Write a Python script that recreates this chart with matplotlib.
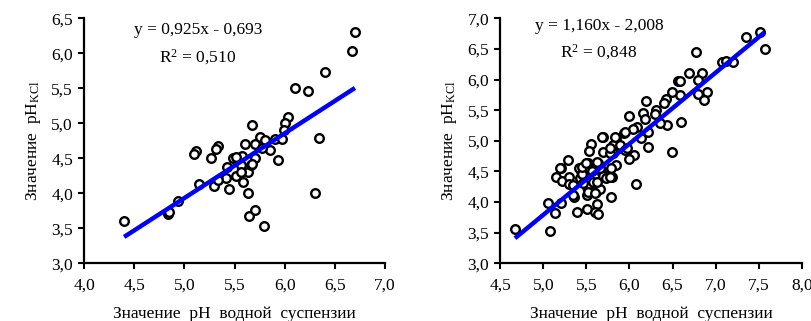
import matplotlib
matplotlib.use("Agg")
import matplotlib.pyplot as plt
import numpy as np

plt.rcParams['font.family'] = ['Liberation Serif', 'DejaVu Serif']
plt.rcParams['mathtext.fontset'] = 'custom'
plt.rcParams['mathtext.rm'] = 'Liberation Serif'
plt.rcParams['mathtext.it'] = 'Liberation Serif:italic'

# ---- Left panel data ----
left_x = [6.70, 6.67, 6.40, 6.10, 6.23, 6.34, 6.03, 6.00, 5.99, 5.67, 5.75, 5.80, 5.90, 5.97,
          5.60, 5.70, 5.85, 5.77, 5.12, 5.10, 5.34, 5.32, 5.27, 4.40, 4.84, 4.85, 4.94, 5.15,
          5.30, 5.45, 5.42, 5.51, 5.58, 5.63, 5.64, 5.70, 5.79, 6.30, 5.93, 5.63, 5.66, 5.56,
          5.56, 5.43, 5.70, 5.49, 5.53, 5.57, 5.34, 5.67, 5.51]
left_y = [6.30, 6.04, 5.73, 5.50, 5.46, 4.79, 5.09, 5.00, 4.90, 4.97, 4.80, 4.76, 4.77, 4.78,
          4.71, 4.71, 4.62, 4.65, 4.61, 4.56, 4.67, 4.64, 4.51, 3.60, 3.71, 3.73, 3.89, 4.14,
          4.10, 4.06, 4.22, 4.25, 4.16, 4.00, 3.68, 3.76, 3.54, 4.00, 4.47, 4.30, 4.40, 4.40,
          4.31, 4.37, 4.50, 4.51, 4.51, 4.53, 4.19, 4.42, 4.52]
left_slope, left_intercept = 0.925, -0.693
left_eq = "y = 0,925x - 0,693"
left_r2 = "0,510"

# ---- Right panel data ----
right_x = [7.52, 7.57, 7.35, 7.08, 7.20, 7.12, 6.77, 6.69, 6.84, 6.56, 6.59, 6.80, 6.80, 6.90,
           6.87, 6.59, 6.49, 6.42, 6.40, 6.19, 6.60, 6.44, 6.36, 6.31, 6.30, 6.16, 6.18, 5.99,
           6.09, 6.04, 5.94, 6.13, 6.21, 6.21, 6.49, 5.69, 5.55, 5.53, 5.84, 5.84, 5.81, 6.05,
           5.69, 5.29, 4.67, 5.08, 5.05, 5.13, 5.20, 5.15, 5.21, 5.22, 5.30, 5.30, 5.36, 5.34,
           5.39, 5.44, 5.43, 5.51, 5.51, 5.51, 5.51, 5.58, 5.61, 5.63, 5.62, 5.60, 5.63, 5.66,
           5.68, 5.69, 5.73, 5.80, 5.78, 5.84, 5.99, 6.08, 5.81, 5.35, 5.41, 5.45, 5.46, 5.56,
           5.66, 5.77, 5.79, 5.77, 5.62, 5.52, 5.60, 5.95, 5.83, 5.68, 5.89, 5.95, 5.62, 5.45,
           5.52, 5.77, 5.97, 5.19, 5.50]
right_y = [6.77, 6.50, 6.70, 6.29, 6.29, 6.30, 6.45, 6.10, 6.10, 5.98, 5.98, 6.00, 5.76, 5.80,
           5.67, 5.74, 5.80, 5.68, 5.61, 5.65, 5.31, 5.26, 5.29, 5.50, 5.44, 5.45, 5.36, 5.40,
           5.23, 5.20, 5.13, 5.05, 5.14, 4.90, 4.81, 5.06, 4.94, 4.84, 5.04, 4.98, 4.93, 4.77,
           4.82, 4.68, 3.56, 3.52, 3.99, 3.82, 3.98, 4.41, 4.55, 4.34, 4.41, 4.29, 4.09, 4.12,
           3.83, 4.51, 4.39, 4.63, 4.12, 3.88, 4.25, 4.33, 4.17, 4.63, 3.97, 3.84, 3.80, 4.21,
           4.47, 4.43, 4.39, 4.41, 4.09, 4.60, 4.70, 4.29, 4.80, 4.28, 4.55, 4.46, 4.31, 4.50,
           4.55, 4.80, 4.55, 4.41, 4.33, 4.17, 4.14, 5.15, 5.07, 5.07, 4.93, 4.85, 4.66, 4.58,
           4.64, 4.88, 4.88, 4.56, 4.64]
right_slope, right_intercept = 1.160, -2.008
right_eq = "y = 1,160x - 2,008"
right_r2 = "0,848"

x_label = "Значение  pH  водной  суспензии"
y_label = "Значение  pH$_{\\mathrm{KCl}}$"

left_xticks = [4.0, 4.5, 5.0, 5.5, 6.0, 6.5, 7.0]
left_yticks = [3.0, 3.5, 4.0, 4.5, 5.0, 5.5, 6.0, 6.5]
right_xticks = [4.5, 5.0, 5.5, 6.0, 6.5, 7.0, 7.5, 8.0]
right_yticks = [3.0, 3.5, 4.0, 4.5, 5.0, 5.5, 6.0, 6.5, 7.0]


def fmt(v):
    return f"{v:.1f}".replace('.', ',')


fig = plt.figure(figsize=(8.12, 3.21), dpi=100)
ax1 = fig.add_axes([84 / 812, 1 - 263.3 / 321, 301 / 812, 245 / 321])
ax2 = fig.add_axes([500.3 / 812, 1 - 263.3 / 321, 301.4 / 812, 245 / 321])


def panel(ax, xs, ys, slope, intercept, eq, r2, xticks, yticks, eq_x, eq_y):
    ax.plot(xs, ys, linestyle='none', marker='o', ms=6.2, mfc='white', mec='black',
            mew=1.7, zorder=3)
    xl = np.array([min(xs), max(xs)])
    ax.plot(xl, slope * xl + intercept, color='#0000ff', lw=3.2, zorder=4,
            solid_capstyle='butt')
    ax.set_xlim(xticks[0], xticks[-1])
    ax.set_ylim(yticks[0], yticks[-1])
    ax.set_xticks(xticks)
    ax.set_yticks(yticks)
    ax.set_xticklabels([fmt(v) for v in xticks], fontsize=12.5)
    ax.set_yticklabels([fmt(v) for v in yticks], fontsize=12.5)
    for s in ['top', 'right']:
        ax.spines[s].set_visible(False)
    for s in ['left', 'bottom']:
        ax.spines[s].set_linewidth(1.6)
    ax.tick_params(direction='out', length=4, width=1.5)
    ax.tick_params(axis='x', pad=6)
    ax.tick_params(axis='y', pad=4)
    ax.set_xlabel(x_label, fontsize=12.5, labelpad=9)
    ax.set_ylabel(y_label, fontsize=12.5, labelpad=6)
    ax.text(eq_x, eq_y, eq, transform=ax.transAxes, ha='center', va='center',
            fontsize=12.5)
    ax.text(eq_x, eq_y - 0.11, "R$^{2}$ = " + r2, transform=ax.transAxes,
            ha='center', va='center', fontsize=12.5)


panel(ax1, left_x, left_y, left_slope, left_intercept, left_eq, left_r2,
      left_xticks, left_yticks, (198 - 84) / 301, (263.3 - 30) / 245)
panel(ax2, right_x, right_y, right_slope, right_intercept, right_eq, right_r2,
      right_xticks, right_yticks, (599 - 500.3) / 301.4, (263.3 - 25.5) / 245)

fig.savefig("out.png", dpi=100)
